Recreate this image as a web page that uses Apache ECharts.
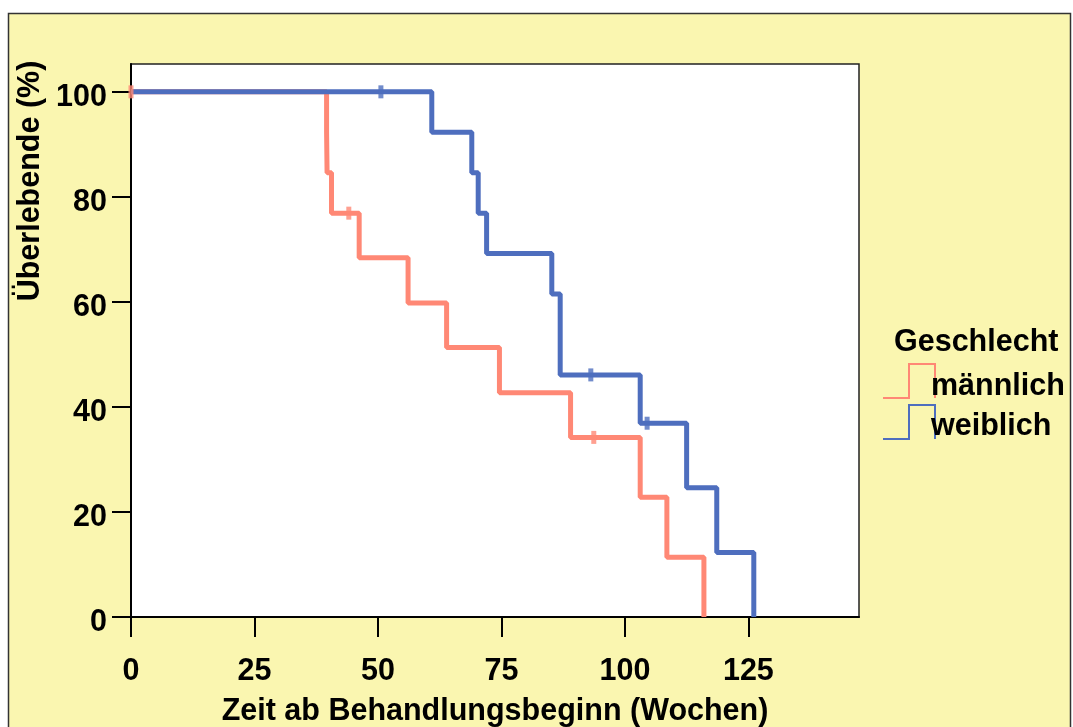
<!DOCTYPE html>
<html>
<head>
<meta charset="utf-8">
<title>Überlebende nach Geschlecht</title>
<script src="https://cdn.jsdelivr.net/npm/echarts@6/dist/echarts.min.js"></script>
<style>
  html, body { margin: 0; padding: 0; background: #fff; }
  #chart { width: 1073px; height: 727px; }
</style>
</head>
<body>
<div id="chart"></div>
<script>
const maleTime    = [0, 39.6, 39.7, 40.6, 46.2, 56.1, 63.9, 74.6, 89.0, 103.1, 108.5, 116.0];
const maleSurv    = [100, 92.3, 84.6, 76.9, 68.4, 59.8, 51.3, 42.7, 34.2, 22.8, 11.4, 0];
const maleCensT   = [0, 44.1, 93.7];
const maleCensS   = [100, 76.9, 34.2];

const femaleTime  = [0, 60.9, 69.0, 70.3, 72.0, 85.2, 86.9, 86.9, 103.1, 112.5, 118.6, 126.1];
const femaleSurv  = [100, 92.3, 84.6, 76.9, 69.2, 61.5, 53.8, 46.1, 36.9, 24.6, 12.3, 0];
const femaleCensT = [50.6, 93.1, 104.5];
const femaleCensS = [100, 46.1, 36.9];

const xTicks = [0, 25, 50, 75, 100, 125];
const yTicks = [0, 20, 40, 60, 80, 100];
const groups = ['männlich', 'weiblich'];

const RED = '#FF8875';
const BLUE = '#4E6EBE';
const BG = '#FAF6B0';
const FONT = "'Liberation Sans', Arial, sans-serif";
const FS = 30.5;

function pairs(xs, ys) {
  return xs.map((x, i) => [x, ys[i]]);
}

const chart = echarts.init(document.getElementById('chart'));

chart.setOption({
  backgroundColor: '#fff',
  animation: false,
  grid: {
    left: 131, top: 64, width: 728, height: 553,
    outerBoundsMode: 'none',
    containLabel: false,
    show: true,
    backgroundColor: '#fff',
    borderColor: '#222',
    borderWidth: 1.5
  },
  xAxis: {
    type: 'value',
    min: 0,
    max: 147.4,
    interval: 25,
    name: 'Zeit ab Behandlungsbeginn (Wochen)',
    nameLocation: 'middle',
    nameGap: 79,
    nameTextStyle: { color: '#000', fontSize: FS, fontWeight: 'bold', fontFamily: FONT },
    axisLine: { lineStyle: { color: '#000', width: 2 } },
    axisTick: { show: true, length: 20, lineStyle: { color: '#000', width: 2 }, customValues: xTicks },
    axisLabel: { color: '#000', fontSize: FS, fontWeight: 'bold', fontFamily: FONT, margin: 39, customValues: xTicks },
    splitLine: { show: false }
  },
  yAxis: {
    type: 'value',
    min: 0,
    max: 105.3,
    interval: 20,
    axisLine: { show: true, lineStyle: { color: '#000', width: 2 } },
    axisTick: { show: true, length: 19, lineStyle: { color: '#000', width: 2 }, customValues: yTicks },
    axisLabel: {
      margin: 24,
      customValues: yTicks,
      formatter: '{v|{value}}',
      rich: {
        v: { color: '#000', fontSize: FS, fontWeight: 'bold', fontFamily: FONT, padding: [11, 0, 0, 0] }
      }
    },
    splitLine: { show: false }
  },
  graphic: [
    {
      // gelber Rahmen
      type: 'rect',
      z: -100,
      shape: { x: 8.5, y: 13.5, width: 1062, height: 740 },
      style: { fill: BG, stroke: '#333', lineWidth: 1.5 }
    },
    {
      type: 'text',
      x: 31, y: 181,
      rotation: Math.PI / 2,
      style: {
        text: 'Überlebende (%)',
        fill: '#000', font: 'bold ' + FS + 'px ' + FONT,
        align: 'center', verticalAlign: 'middle'
      }
    },
    // Legende
    {
      type: 'text',
      x: 894, y: 343,
      style: { text: 'Geschlecht', fill: '#000', font: 'bold ' + FS + 'px ' + FONT, align: 'left', verticalAlign: 'middle' }
    },
    {
      type: 'polyline',
      shape: { points: [[883, 398], [909, 398], [909, 364], [935, 364], [935, 398]] },
      style: { stroke: RED, lineWidth: 2, fill: null }
    },
    {
      type: 'text',
      x: 931, y: 387,
      style: { text: groups[0], fill: '#000', font: 'bold ' + FS + 'px ' + FONT, align: 'left', verticalAlign: 'middle' }
    },
    {
      type: 'polyline',
      shape: { points: [[883, 439], [909, 439], [909, 405], [935, 405], [935, 439]] },
      style: { stroke: BLUE, lineWidth: 2, fill: null }
    },
    {
      type: 'text',
      x: 931, y: 427,
      style: { text: groups[1], fill: '#000', font: 'bold ' + FS + 'px ' + FONT, align: 'left', verticalAlign: 'middle' }
    }
  ],
  series: [
    {
      name: groups[0],
      type: 'line',
      step: 'end',
      data: pairs(maleTime, maleSurv),
      showSymbol: false,
      lineStyle: { color: RED, width: 5 },
      itemStyle: { color: RED },
      z: 2
    },
    {
      name: groups[1],
      type: 'line',
      step: 'end',
      data: pairs(femaleTime, femaleSurv),
      showSymbol: false,
      lineStyle: { color: BLUE, width: 5 },
      itemStyle: { color: BLUE },
      z: 3
    },
    {
      name: groups[0] + ' zensiert',
      type: 'scatter',
      data: pairs(maleCensT, maleCensS),
      symbol: 'rect',
      symbolSize: [5, 13],
      itemStyle: { color: RED },
      z: 4
    },
    {
      name: groups[1] + ' zensiert',
      type: 'scatter',
      data: pairs(femaleCensT, femaleCensS),
      symbol: 'rect',
      symbolSize: [5, 13],
      itemStyle: { color: BLUE },
      z: 4
    }
  ]
});
</script>
</body>
</html>
